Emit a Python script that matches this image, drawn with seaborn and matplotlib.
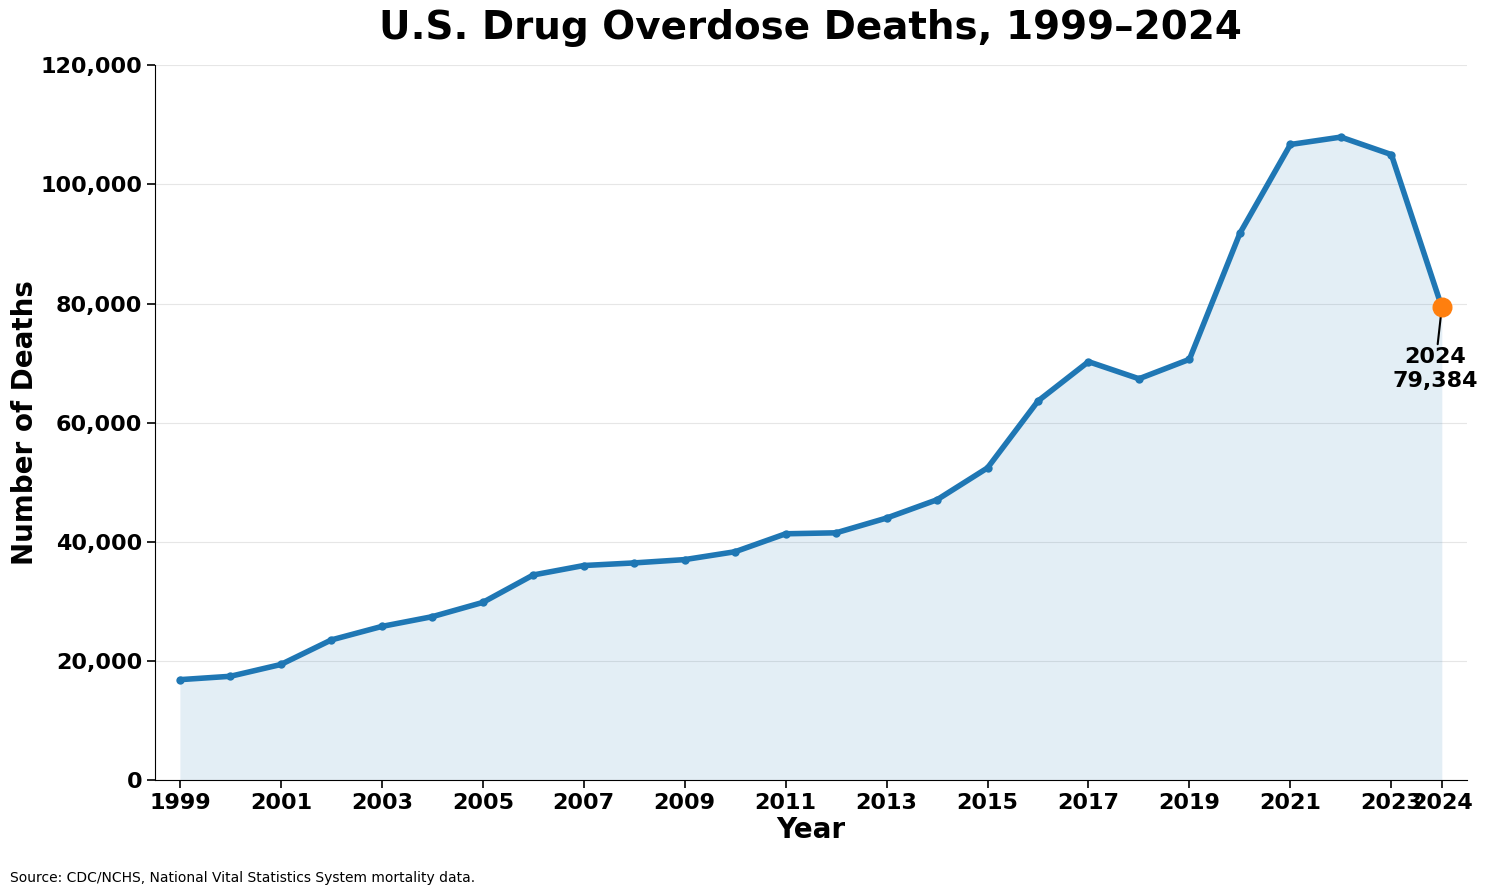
import pandas as pd
import numpy as np
import matplotlib
matplotlib.use("Agg")
import matplotlib.pyplot as plt
import seaborn as sns

sns.set_style("ticks", {"text.color": "black", "axes.labelcolor": "black",
                        "xtick.color": "black", "ytick.color": "black",
                        "axes.edgecolor": "black"})

# data: CDC/NCHS overdose deaths per year
years = list(range(1999, 2025))
deaths = [16849, 17415, 19394, 23518, 25785, 27424, 29813, 34425, 36010, 36450,
          37004, 38329, 41340, 41502, 43982, 47055, 52404, 63632, 70237, 67367,
          70630, 91799, 106699, 107941, 105007, 79384]
tick_years = list(range(1999, 2024, 2)) + [2024]

df = pd.DataFrame({"Year": years, "Deaths": deaths})

fig, ax = plt.subplots(figsize=(14.87, 8.94), dpi=100)

ax.fill_between(df["Year"], df["Deaths"], color="tab:blue", alpha=0.12, linewidth=0)
sns.lineplot(data=df, x="Year", y="Deaths", ax=ax, color="#1f77b4", linewidth=4,
             marker="o", markersize=6, markeredgewidth=0)

last = df.iloc[-1]
ax.scatter([last["Year"]], [last["Deaths"]], s=180, color="#ff7f0e", zorder=5)
ax.annotate(f"{int(last['Year'])}\n{int(last['Deaths']):,}",
            xy=(last["Year"], last["Deaths"]), xytext=(-5, -29),
            textcoords="offset points", ha="center", va="top",
            fontsize=16, fontweight="bold", color="black",
            arrowprops=dict(arrowstyle="-", color="black", lw=1.5, shrinkA=0, shrinkB=6))

ax.set_xlim(1998.5, 2024.5)
ax.set_ylim(0, 120000)
ax.set_xticks(tick_years)
ax.set_yticks(np.arange(0, 120001, 20000))
ax.yaxis.set_major_formatter(matplotlib.ticker.FuncFormatter(lambda v, p: f"{int(v):,}"))
for lab in ax.get_xticklabels() + ax.get_yticklabels():
    lab.set_fontsize(16)
    lab.set_fontweight("bold")
ax.tick_params(length=6, width=1.2)
ax.tick_params(axis="y", pad=3)

ax.grid(axis="y", color="#e6e6e6", linewidth=0.8)
ax.set_axisbelow(True)
sns.despine(ax=ax)

ax.set_title("U.S. Drug Overdose Deaths, 1999\u20132024", fontsize=28, fontweight="bold", pad=19)
ax.set_xlabel("Year", fontsize=20, fontweight="bold", labelpad=2)
ax.set_ylabel("Number of Deaths", fontsize=20, fontweight="bold", labelpad=1)

fig.subplots_adjust(left=0.104, right=0.9866, top=0.927, bottom=0.1275)
fig.text(0.007, 0.013, "Source: CDC/NCHS, National Vital Statistics System mortality data.", fontsize=10)

fig.savefig("out.png", dpi=100)
